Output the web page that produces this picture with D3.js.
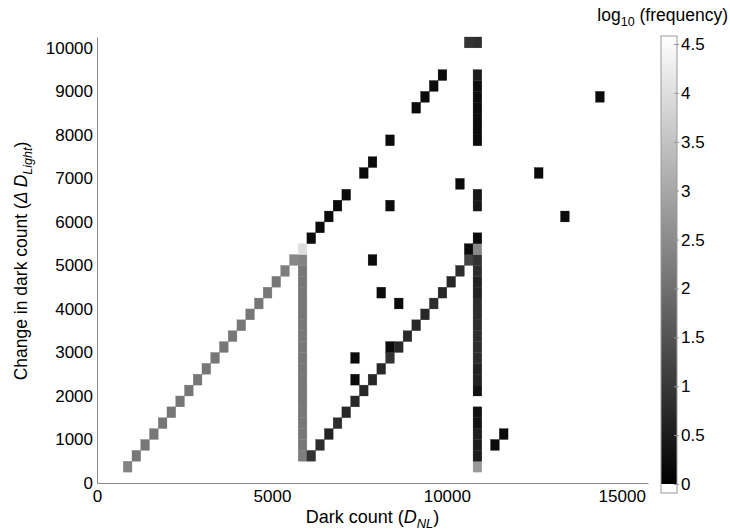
<!DOCTYPE html>
<html>
<head>
<meta charset="utf-8">
<script src="https://cdn.jsdelivr.net/npm/d3@7"></script>
<style>
  body { margin: 0; background: #fff; }
  text { font-family: "Liberation Sans", Arial, sans-serif; fill: #000; }
</style>
</head>
<body>
<div id="chart"></div>
<script>
// bins are 250 x 250, given by lower-left corner [dark count, change, log10 freq]
const binSize = 250

const leftDiagonal = [
  [750, 250, 2.3], [1000, 500, 2.1], [1250, 750, 2.1], [1500, 1000, 2.1],
  [1750, 1250, 2.1], [2000, 1500, 2.1], [2250, 1750, 2.1], [2500, 2000, 2.1],
  [2750, 2250, 2.1], [3000, 2500, 2.1], [3250, 2750, 2.1], [3500, 3000, 2.1],
  [3750, 3250, 2.1], [4000, 3500, 2.1], [4250, 3750, 2.1], [4500, 4000, 2.1],
  [4750, 4250, 2.1], [5000, 4500, 2.1], [5250, 4750, 2.2], [5500, 5000, 2.4]
]

const leftColumn = [
  [5750, 500, 2.2], [5750, 750, 2.1], [5750, 1000, 2.1], [5750, 1250, 2.1],
  [5750, 1500, 2.1], [5750, 1750, 2.1], [5750, 2000, 2.1], [5750, 2250, 2.1],
  [5750, 2500, 2.1], [5750, 2750, 2.1], [5750, 3000, 2.1], [5750, 3250, 2.1],
  [5750, 3500, 2.1], [5750, 3750, 2.1], [5750, 4000, 2.1], [5750, 4250, 2.1],
  [5750, 4500, 2.1], [5750, 4750, 2.1], [5750, 5000, 2.3], [5750, 5250, 3.9]
]

const lowerDiagonal = [
  [6000, 500, 0.9], [6250, 750, 0.8], [6500, 1000, 0.6], [6750, 1250, 0.8],
  [7000, 1500, 0.7], [7250, 1750, 0.7], [7500, 2000, 0.7], [7750, 2250, 0.7],
  [8000, 2500, 0.7], [8250, 2750, 0.9], [8250, 3000, 0.2], [8500, 3000, 0.7],
  [8750, 3250, 0.7], [9000, 3500, 0.7], [9250, 3750, 0.7], [9500, 4000, 0.8],
  [9750, 4250, 0.7], [10000, 4500, 0.7], [10250, 4750, 0.8], [10500, 5000, 1.2],
  [10500, 5250, 0.2]
]

const upperDiagonal = [
  [6000, 5500, 0.2], [6250, 5750, 0.2], [6500, 6000, 0.2], [6750, 6250, 0.2],
  [7000, 6500, 0.2], [7500, 7000, 0.2], [7750, 7250, 0.2], [8250, 7750, 0.2],
  [9000, 8500, 0.2], [9250, 8750, 0.2], [9500, 9000, 0.2], [9750, 9250, 0.2]
]

const rightColumn = [
  [10750, 250, 2.7], [10750, 500, 0.5], [10750, 750, 0.5], [10750, 1000, 0.5],
  [10750, 1250, 0.3], [10750, 1500, 0.3], [10750, 2000, 0.3], [10750, 2250, 0.6],
  [10750, 2500, 0.6], [10750, 2750, 0.8], [10750, 3000, 0.8], [10750, 3250, 0.8],
  [10750, 3500, 0.8], [10750, 3750, 0.8], [10750, 4000, 0.8], [10750, 4250, 0.6],
  [10750, 4500, 0.6], [10750, 4750, 0.8], [10750, 5000, 0.9], [10750, 5250, 2.4],
  [10750, 5500, 0.2], [10750, 6250, 0.4], [10750, 6500, 0.4],
  [10750, 7750, 0.2], [10750, 8000, 0.2], [10750, 8250, 0.2], [10750, 8500, 0.2],
  [10750, 8750, 0.2], [10750, 9000, 0.2], [10750, 9250, 0.5],
  [10500, 10000, 0.9], [10750, 10000, 0.8]
]

const scattered = [
  [7250, 2250, 0.2], [7250, 2750, 0.2], [7750, 5000, 0.2], [8000, 4250, 0.2],
  [8500, 4000, 0.2], [8250, 6250, 0.2], [10250, 6750, 0.2], [11250, 750, 0.2],
  [11500, 1000, 0.2], [12500, 7000, 0.2], [13250, 6000, 0.2], [14250, 8750, 0.2]
]

const xTicks = [0, 5000, 10000, 15000]
const yTicks = [0, 1000, 2000, 3000, 4000, 5000, 6000, 7000, 8000, 9000, 10000]
const cTicks = [0, 0.5, 1, 1.5, 2, 2.5, 3, 3.5, 4, 4.5]

const width = 730
const height = 532
const m = { left: 97, right: 648, top: 37, bottom: 483 }

const svg = d3.select('#chart').append('svg')
  .attr('width', width)
  .attr('height', height)

const x = d3.scaleLinear().domain([0, 15750]).range([m.left, m.right])
const y = d3.scaleLinear().domain([0, 10250]).range([m.bottom, m.top])
const color = d3.scaleLinear().domain([0, 4.5]).range(['#000', '#fff']).clamp(true)

const cells = [].concat(leftDiagonal, leftColumn, lowerDiagonal, upperDiagonal, rightColumn, scattered)

svg.append('g')
  .selectAll('rect')
  .data(cells)
  .join('rect')
  .attr('x', (d) => x(d[0]))
  .attr('y', (d) => y(d[1] + binSize))
  .attr('width', (d) => x(d[0] + binSize) - x(d[0]))
  .attr('height', (d) => y(d[1]) - y(d[1] + binSize))
  .attr('fill', (d) => color(d[2]))
  .attr('stroke', (d) => color(d[2]))
  .attr('stroke-width', 0.3)

// axes, matlab style: only left and bottom lines
const xAxis = svg.append('g')
  .attr('transform', `translate(0,${m.bottom})`)
  .call(d3.axisBottom(x).tickValues(xTicks).tickSize(0).tickPadding(6).tickFormat(d3.format('d')))
xAxis.select('.domain').attr('stroke', '#888')
xAxis.selectAll('text').attr('font-size', 17).attr('dy', '0.75em')

const yAxis = svg.append('g')
  .attr('transform', `translate(${m.left},0)`)
  .call(d3.axisLeft(y).tickValues(yTicks).tickSize(0).tickPadding(4).tickFormat(d3.format('d')))
yAxis.select('.domain').attr('stroke', '#888')
yAxis.selectAll('text').attr('font-size', 17)

// axis titles
const xt = svg.append('text')
  .attr('x', (m.left + m.right) / 2)
  .attr('y', 523)
  .attr('text-anchor', 'middle')
  .attr('font-size', 18)
xt.append('tspan').text('Dark count (')
xt.append('tspan').attr('font-style', 'italic').text('D')
xt.append('tspan').attr('font-style', 'italic').attr('font-size', 13).attr('dy', 5).text('NL')
xt.append('tspan').attr('dy', -5).text(')')

const yt = svg.append('text')
  .attr('transform', `translate(27,${(m.top + m.bottom) / 2 + 1}) rotate(-90)`)
  .attr('text-anchor', 'middle')
  .attr('font-size', 17.5)
yt.append('tspan').text('Change in dark count (')
yt.append('tspan').attr('font-style', 'italic').text('Δ D')
yt.append('tspan').attr('font-style', 'italic').attr('font-size', 12.5).attr('dy', 5).text('Light')
yt.append('tspan').attr('dy', -5).text(')')

// colorbar
const cb = { x: 661, w: 16, top: 36, bottom: 493 }
const cy = d3.scaleLinear().domain([0, 4.5]).range([484, 44])

const defs = svg.append('defs')
const grad = defs.append('linearGradient')
  .attr('id', 'cbgrad')
  .attr('x1', 0).attr('y1', 1).attr('x2', 0).attr('y2', 0)
grad.append('stop').attr('offset', 0).attr('stop-color', '#000')
grad.append('stop').attr('offset', 1).attr('stop-color', color(cy.invert(cb.top)))

svg.append('rect')
  .attr('x', cb.x).attr('y', cb.top)
  .attr('width', cb.w).attr('height', cy(0) - cb.top)
  .attr('fill', 'url(#cbgrad)')
svg.append('rect')
  .attr('x', cb.x).attr('y', cy(0))
  .attr('width', cb.w).attr('height', cb.bottom - cy(0))
  .attr('fill', '#fff')
svg.append('rect')
  .attr('x', cb.x).attr('y', cb.top)
  .attr('width', cb.w).attr('height', cb.bottom - cb.top)
  .attr('fill', 'none')
  .attr('stroke', '#999')

const cAxis = svg.append('g')
  .attr('transform', `translate(${cb.x + cb.w},0)`)
  .call(d3.axisRight(cy).tickValues(cTicks).tickSize(3).tickPadding(1).tickFormat(d3.format('')))
cAxis.select('.domain').remove()
cAxis.selectAll('line').attr('stroke', '#999').attr('x1', -3).attr('x2', 2)
cAxis.selectAll('text').attr('font-size', 17)

const ct = svg.append('text')
  .attr('x', 728)
  .attr('y', 21)
  .attr('text-anchor', 'end')
  .attr('font-size', 17.5)
ct.append('tspan').text('log')
ct.append('tspan').attr('font-size', 12.5).attr('dy', 5).text('10')
ct.append('tspan').attr('dy', -5).text(' (frequency)')
</script>
</body>
</html>
